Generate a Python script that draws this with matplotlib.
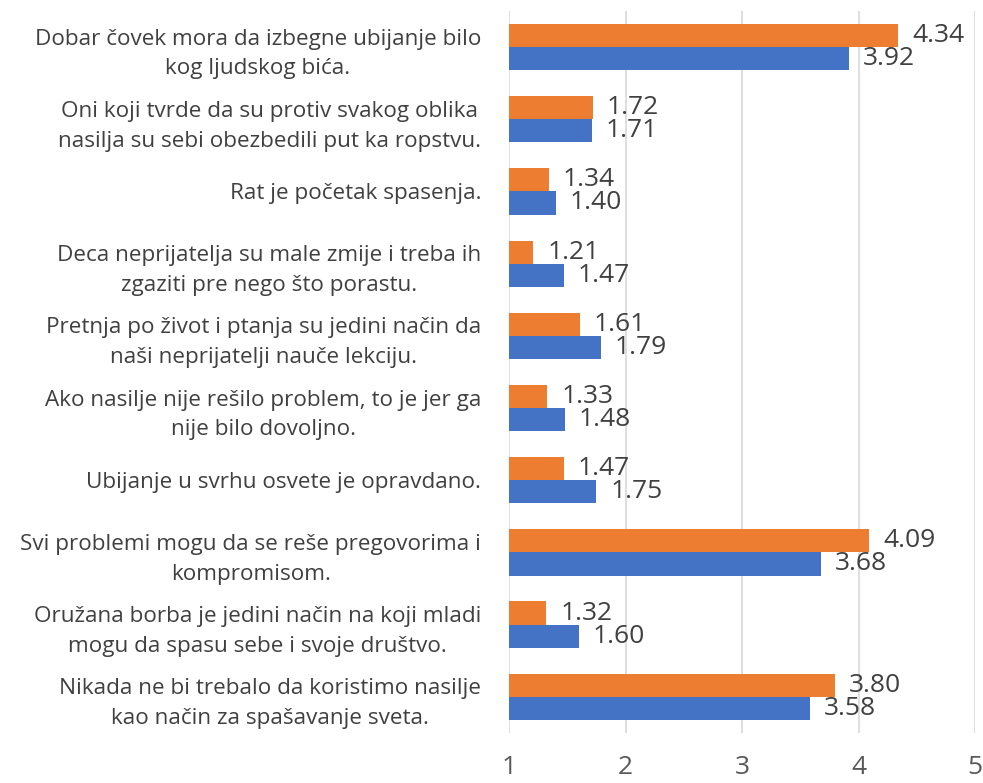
import matplotlib
matplotlib.use("Agg")
import matplotlib.pyplot as plt
import numpy as np

categories = [
    "Dobar čovek mora da izbegne ubijanje bilo\nkog ljudskog bića.",
    "Oni koji tvrde da su protiv svakog oblika\nnasilja su sebi obezbedili put ka ropstvu.",
    "Rat je početak spasenja.",
    "Deca neprijatelja su male zmije i treba ih\nzgaziti pre nego što porastu.",
    "Pretnja po život i ptanja su jedini način da\nnaši neprijatelji nauče lekciju.",
    "Ako nasilje nije rešilo problem, to je jer ga\nnije bilo dovoljno.",
    "Ubijanje u svrhu osvete je opravdano.",
    "Svi problemi mogu da se reše pregovorima i\nkompromisom.",
    "Oružana borba je jedini način na koji mladi\nmogu da spasu sebe i svoje društvo.",
    "Nikada ne bi trebalo da koristimo nasilje\nkao način za spašavanje sveta.",
]
orange_values = [4.34, 1.72, 1.34, 1.21, 1.61, 1.33, 1.47, 4.09, 1.32, 3.80]
blue_values = [3.92, 1.71, 1.40, 1.47, 1.79, 1.48, 1.75, 3.68, 1.60, 3.58]
x_ticks = [1, 2, 3, 4, 5]

plt.rcParams['font.family'] = ['Open Sans', 'DejaVu Sans']

fig = plt.figure(figsize=(9.83, 7.83), dpi=100)
ax = fig.add_axes([0.5178, 0.064, 0.9919 - 0.5178, 0.986 - 0.064])

y = np.arange(len(categories))
h = 0.32
orange = '#ED7D31'
blue = '#4472C4'
ax.barh(y - h / 2, orange_values, height=h, color=orange, zorder=3)
ax.barh(y + h / 2, blue_values, height=h, color=blue, zorder=3)

text_color = '#404040'
for yi, v in zip(y, orange_values):
    ax.annotate(f"{v:.2f}", (v, yi - h / 2), xytext=(10, 0), textcoords='offset points',
                va='center', ha='left', fontsize=19, color=text_color)
for yi, v in zip(y, blue_values):
    ax.annotate(f"{v:.2f}", (v, yi + h / 2), xytext=(10, 0), textcoords='offset points',
                va='center', ha='left', fontsize=19, color=text_color)

ax.set_xlim(1, 5)
ax.set_ylim(len(categories) - 0.5, -0.5)
ax.set_xticks(x_ticks)
ax.set_xticklabels([str(t) for t in x_ticks], fontsize=19, color='#595959')
ax.set_yticks(y)
ax.set_yticklabels(categories, fontsize=16.2, color=text_color, multialignment='center',
                   linespacing=1.55)
ax.tick_params(axis='y', length=0, pad=20)
ax.tick_params(axis='x', length=0, pad=16)
ax.grid(axis='x', color='#D9D9D9', linewidth=1.2, zorder=0)
for s in ax.spines.values():
    s.set_visible(False)

fig.savefig("out.png", dpi=100)
